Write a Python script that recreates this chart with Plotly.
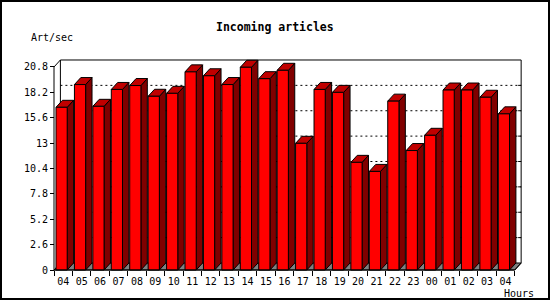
import plotly.graph_objects as go

# ---------------- data ----------------
hours = ["04", "05", "06", "07", "08", "09", "10", "11", "12", "13", "14", "15", "16",
         "17", "18", "19", "20", "21", "22", "23", "00", "01", "02", "03", "04"]
values = [16.67, 19.0, 16.77, 18.5, 18.9, 17.8, 18.1, 20.3, 19.9, 19.0, 20.77, 19.6, 20.46,
          12.98, 18.5, 18.2, 11.03, 10.1, 17.3, 12.24, 13.8, 18.44, 18.44, 17.7, 16.0]
y_ticks = [0, 2.6, 5.2, 7.8, 10.4, 13, 15.6, 18.2, 20.8]
y_tick_text = ["0", "2.6", "5.2", "7.8", "10.4", "13", "15.6", "18.2", "20.8"]
title = "Incoming articles"
y_title = "Art/sec"
x_title = "Hours"

# ---------------- geometry ----------------
W, H = 550, 300
ML, MR, MT, MB = 50, 24, 56, 27
PW, PH = W - ML - MR, H - MT - MB
PX_X = 18.43   # pixels per hour slot
PX_Y = 9.76    # pixels per unit
X0_PX = 54     # pixel of slot 0 left edge
Y0_PX = 270    # pixel of value 0
x_lo = -(X0_PX - ML) / PX_X
x_hi = x_lo + PW / PX_X
y_lo = -((H - MB) - Y0_PX) / PX_Y
y_hi = y_lo + PH / PX_Y

N = len(values)
YMAX = y_ticks[-1]
FRONT_OFF = 2.0 / PX_X
FRONT_W = 11.2 / PX_X
DX = 6.4 / PX_X
DY = 7.0 / PX_Y

FONT = "DejaVu Sans Mono"

fig = go.Figure()

def poly(xs, ys, fill, name, line_color="black", width=1):
    fig.add_trace(go.Scatter(x=xs, y=ys, mode="lines", fill="toself", fillcolor=fill,
                             line=dict(color=line_color, width=width),
                             hoverinfo="skip", showlegend=False, name=name))

def line(xs, ys, dash="solid", width=1):
    fig.add_trace(go.Scatter(x=xs, y=ys, mode="lines",
                             line=dict(color="black", width=width, dash=dash),
                             hoverinfo="skip", showlegend=False))

# back plane outline
line([DX, DX, N + DX, N + DX], [DY, YMAX + DY, YMAX + DY, DY])
# dotted grid lines on back plane + right ticks
for t in y_ticks[1:-1]:
    line([DX, N + DX], [t + DY, t + DY], dash="2px,3px")
    line([N + DX - 3 / PX_X, N + DX], [t + DY, t + DY])

# floor
poly([0, N, N + DX, DX, 0], [0, 0, DY, DY, 0], "#808080", "floor")

# bars
fx, fy, sx, sy, tx, ty = [], [], [], [], [], []
for i, v in enumerate(values):
    fl = i + FRONT_OFF
    fr = fl + FRONT_W
    fx += [fl, fr, fr, fl, fl, None]
    fy += [0, 0, v, v, 0, None]
    sx += [fr, fr + DX, fr + DX, fr, fr, None]
    sy += [0, DY, v + DY, v, 0, None]
    tx += [fl, fr, fr + DX, fl + DX, fl, None]
    ty += [v, v, v + DY, v + DY, v, None]
poly(sx, sy, "#800000", "side")
poly(tx, ty, "#C00000", "top")
poly(fx, fy, "#FF0000", "front")

# front axes
line([0, 0, DX], [0, YMAX, YMAX + DY])
line([0, N, N + DX], [0, 0, DY])

ypos = (X0_PX - ML) / PW
xpos = ((H - MB) - Y0_PX) / PH

fig.update_layout(
    width=W, height=H,
    margin=dict(l=ML, r=MR, t=MT, b=MB, pad=0),
    paper_bgcolor="white", plot_bgcolor="white",
    font=dict(family=FONT, size=10, color="black"),
    xaxis=dict(range=[x_lo, x_hi], anchor="free", position=xpos,
               tickmode="array", tickvals=list(range(N + 1)), ticks="outside",
               ticklen=5, tickcolor="black", tickwidth=1, showticklabels=False,
               showgrid=False, zeroline=False, showline=False, fixedrange=True),
    xaxis2=dict(range=[x_lo, x_hi], overlaying="x", anchor="free", position=xpos,
                side="bottom", tickmode="array", tickvals=[i + 0.5 for i in range(N)],
                ticktext=hours, ticks="outside", ticklen=2, tickcolor="rgba(0,0,0,0)",
                tickfont=dict(family=FONT, size=10, color="black"),
                showgrid=False, zeroline=False, showline=False, fixedrange=True),
    yaxis=dict(range=[y_lo, y_hi], anchor="free", position=ypos,
               tickmode="array", tickvals=y_ticks, ticktext=y_tick_text,
               ticks="outside", ticklen=4, tickcolor="black", tickwidth=1,
               tickfont=dict(family=FONT, size=10, color="black"),
               showgrid=False, zeroline=False, showline=False, fixedrange=True),
    annotations=[
        dict(text="<b>" + title + "</b>", xref="paper", yref="paper",
             x=(275 - ML) / PW, y=((H - MB) - 27) / PH, xanchor="center", yanchor="middle",
             showarrow=False, font=dict(family=FONT, size=11.5, color="black")),
        dict(text=y_title, xref="paper", yref="paper",
             x=(29 - ML) / PW, y=((H - MB) - 37) / PH, xanchor="left", yanchor="middle",
             showarrow=False, font=dict(family=FONT, size=10, color="black")),
        dict(text=x_title, xref="paper", yref="paper",
             x=(535 - ML) / PW, y=((H - MB) - 293) / PH, xanchor="right", yanchor="middle",
             showarrow=False, borderpad=0, font=dict(family=FONT, size=10, color="black")),
    ],
    shapes=[
        dict(type="rect", xref="paper", yref="paper", layer="above",
             x0=(1 - ML) / PW, x1=(549 - ML) / PW,
             y0=((H - MB) - 299) / PH, y1=((H - MB) - 1) / PH,
             line=dict(color="black", width=2), fillcolor="rgba(0,0,0,0)"),
    ],
)

# make xaxis2 ticks render by attaching an invisible trace
fig.add_trace(go.Scatter(x=[0], y=[0], xaxis="x2", mode="markers",
                         marker=dict(opacity=0), hoverinfo="skip", showlegend=False))

fig.write_html("out.html")
